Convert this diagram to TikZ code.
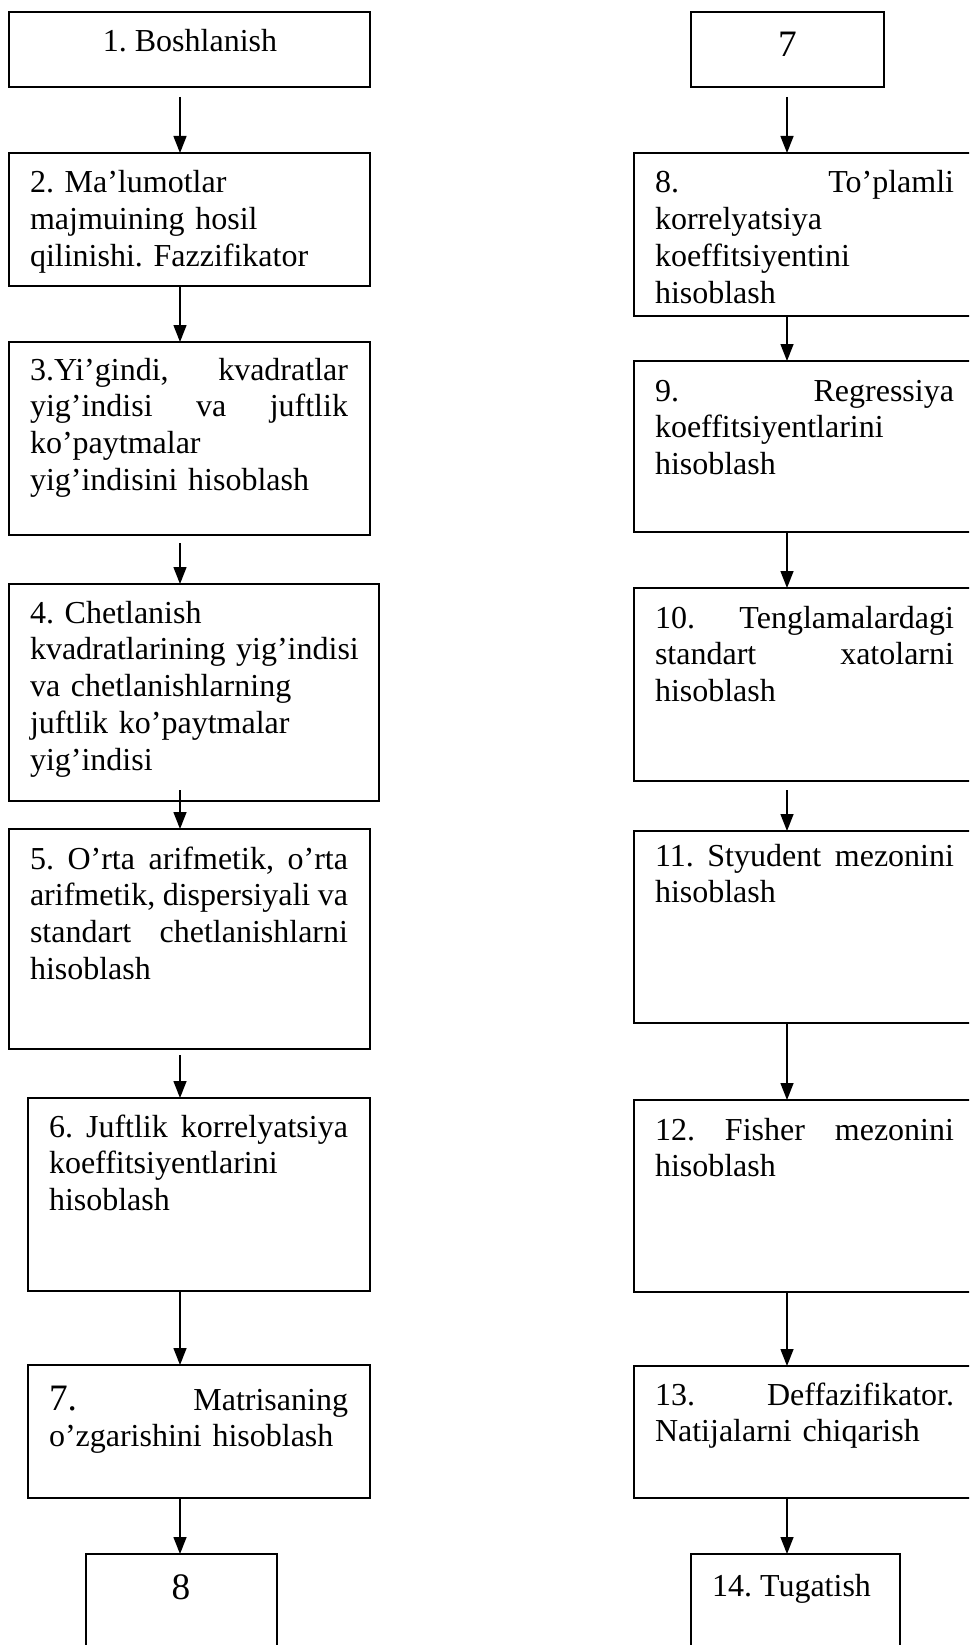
\documentclass[tikz,border=0pt]{standalone}
\usepackage{fontspec}
\setmainfont{Liberation Serif}
\usetikzlibrary{arrows.meta}
\setlength{\parindent}{0pt}
\frenchspacing

\begin{document}
\begin{tikzpicture}[x=1pt,y=-1pt,
  box/.style={draw, line width=1.4pt, rectangle, inner sep=0pt, outer sep=0pt, anchor=north west},
  txt/.style={anchor=north west, inner sep=0pt, outer sep=0pt, text width=#1, align=left,
              font=\fontsize{32}{36.8}\selectfont},
  lbl/.style={anchor=base, inner sep=0pt, font=\fontsize{32}{36.8}\selectfont},
  biglbl/.style={anchor=base, inner sep=0pt, font=\fontsize{37.3}{40}\selectfont},
  arr/.style={line width=1.4pt, -{Triangle[length=17pt,width=13pt]}}
]
\useasboundingbox (0,0) rectangle (969,1645);
\fill[white] (0,0) rectangle (969,1645);
\clip (0,0) rectangle (969,1645);

% arrow columns
\coordinate (colL) at (180,0);
\coordinate (colR) at (787,0);

% ---------- left column ----------
\node[box, minimum width=361pt, minimum height=75pt]  (b1) at (9,12) {};
\node[box, minimum width=361pt, minimum height=133pt] (b2) at (9,153) {};
\node[box, minimum width=361pt, minimum height=193pt] (b3) at (9,342) {};
\node[box, minimum width=370pt, minimum height=217pt] (b4) at (9,584) {};
\node[box, minimum width=361pt, minimum height=220pt] (b5) at (9,829) {};
\node[box, minimum width=342pt, minimum height=193pt] (b6) at (28,1098) {};
\node[box, minimum width=342pt, minimum height=133pt] (b7) at (28,1365) {};
\node[box, minimum width=191pt, minimum height=106pt] (b8) at (86,1554) {};

\node[lbl] (t1) at ([xshift=0.5pt,yshift=-40pt]b1.north) {1. Boshlanish};
\node[txt=318pt] (t2) at ([xshift=21pt,yshift=-12pt]b2.north west)
  {\rule{0pt}{28pt}2. Ma’lumotlar\\ majmuining hosil\\ qilinishi. Fazzifikator};
\node[txt=318pt] (t3) at ([xshift=21pt,yshift=-10pt]b3.north west)
  {\rule{0pt}{28pt}3.Yi’gindi,\hfill kvadratlar\\ yig’indisi\hfill va\hfill juftlik\\ ko’paytmalar\\ yig’indisini hisoblash};
\node[txt=345pt] (t4) at ([xshift=21pt,yshift=-11pt]b4.north west)
  {\rule{0pt}{28pt}4. Chetlanish\\ kvadratlarining yig’indisi\\ va chetlanishlarning\\ juftlik ko’paytmalar\\ yig’indisi};
\node[txt=318pt] (t5) at ([xshift=21pt,yshift=-12pt]b5.north west)
  {\rule{0pt}{28pt}5.\hfill O’rta\hfill arifmetik,\hfill o’rta\\ arifmetik,\hfill dispersiyali\hfill va\\ standart\hfill chetlanishlarni\\ hisoblash};
\node[txt=299pt] (t6) at ([xshift=21pt,yshift=-11pt]b6.north west)
  {\rule{0pt}{28pt}6.\hfill Juftlik\hfill korrelyatsiya\\ koeffitsiyentlarini\\ hisoblash};
\node[txt=299pt] (t7) at ([xshift=21pt,yshift=-17pt]b7.north west)
  {\rule{0pt}{28pt}{\fontsize{37.3}{40}\selectfont 7.}\hfill Matrisaning\\ o’zgarishini hisoblash};
\node[biglbl] (t8) at ([xshift=-0.5pt,yshift=-45pt]b8.north) {8};

\draw[arr, shorten <=10pt]  (b1.south -| colL) -- (b2.north -| colL);
\draw[arr]                  (b2.south -| colL) -- (b3.north -| colL);
\draw[arr, shorten <=8pt]   (b3.south -| colL) -- (b4.north -| colL);
\draw[arr, shorten <=-11pt] (b4.south -| colL) -- (b5.north -| colL);
\draw[arr, shorten <=6pt]   (b5.south -| colL) -- (b6.north -| colL);
\draw[arr]                  (b6.south -| colL) -- (b7.north -| colL);
\draw[arr]                  (b7.south -| colL) -- (b8.north -| colL);

% ---------- right column ----------
\node[box, minimum width=193pt, minimum height=75pt]  (r7)  at (691,12) {};
\node[box, minimum width=342pt, minimum height=163pt] (r8)  at (634,153) {};
\node[box, minimum width=342pt, minimum height=171pt] (r9)  at (634,361) {};
\node[box, minimum width=342pt, minimum height=193pt] (r10) at (634,588) {};
\node[box, minimum width=342pt, minimum height=192pt] (r11) at (634,831) {};
\node[box, minimum width=342pt, minimum height=192pt] (r12) at (634,1100) {};
\node[box, minimum width=342pt, minimum height=132pt] (r13) at (634,1366) {};
\node[box, minimum width=209pt, minimum height=106pt] (r14) at (691,1554) {};

\node[biglbl] (s7) at ([yshift=-45pt]r7.north) {7};
\node[txt=299pt] (s8) at ([xshift=21pt,yshift=-12pt]r8.north west)
  {\rule{0pt}{28pt}8.\hfill To’plamli\\ korrelyatsiya\\ koeffitsiyentini\\ hisoblash};
\node[txt=299pt] (s9) at ([xshift=21pt,yshift=-12pt]r9.north west)
  {\rule{0pt}{28pt}9.\hfill Regressiya\\ koeffitsiyentlarini\\ hisoblash};
\node[txt=299pt] (s10) at ([xshift=21pt,yshift=-12pt]r10.north west)
  {\rule{0pt}{28pt}10.\hfill Tenglamalardagi\\ standart\hfill xatolarni\\ hisoblash};
\node[txt=299pt] (s11) at ([xshift=21pt,yshift=-7pt]r11.north west)
  {\rule{0pt}{28pt}11.\hfill Styudent\hfill mezonini\\ hisoblash};
\node[txt=299pt] (s12) at ([xshift=21pt,yshift=-12pt]r12.north west)
  {\rule{0pt}{28pt}12.\hfill Fisher\hfill mezonini\\ hisoblash};
\node[txt=299pt] (s13) at ([xshift=21pt,yshift=-11pt]r13.north west)
  {\rule{0pt}{28pt}13.\hfill Deffazifikator.\\ Natijalarni chiqarish};
\node[lbl] (s14) at ([xshift=-4pt,yshift=-42pt]r14.north) {14. Tugatish};

\draw[arr, shorten <=10pt] (r7.south -| colR)  -- (r8.north -| colR);
\draw[arr]                 (r8.south -| colR)  -- (r9.north -| colR);
\draw[arr]                 (r9.south -| colR)  -- (r10.north -| colR);
\draw[arr, shorten <=9pt]  (r10.south -| colR) -- (r11.north -| colR);
\draw[arr]                 (r11.south -| colR) -- (r12.north -| colR);
\draw[arr]                 (r12.south -| colR) -- (r13.north -| colR);
\draw[arr]                 (r13.south -| colR) -- (r14.north -| colR);
\end{tikzpicture}
\end{document}
